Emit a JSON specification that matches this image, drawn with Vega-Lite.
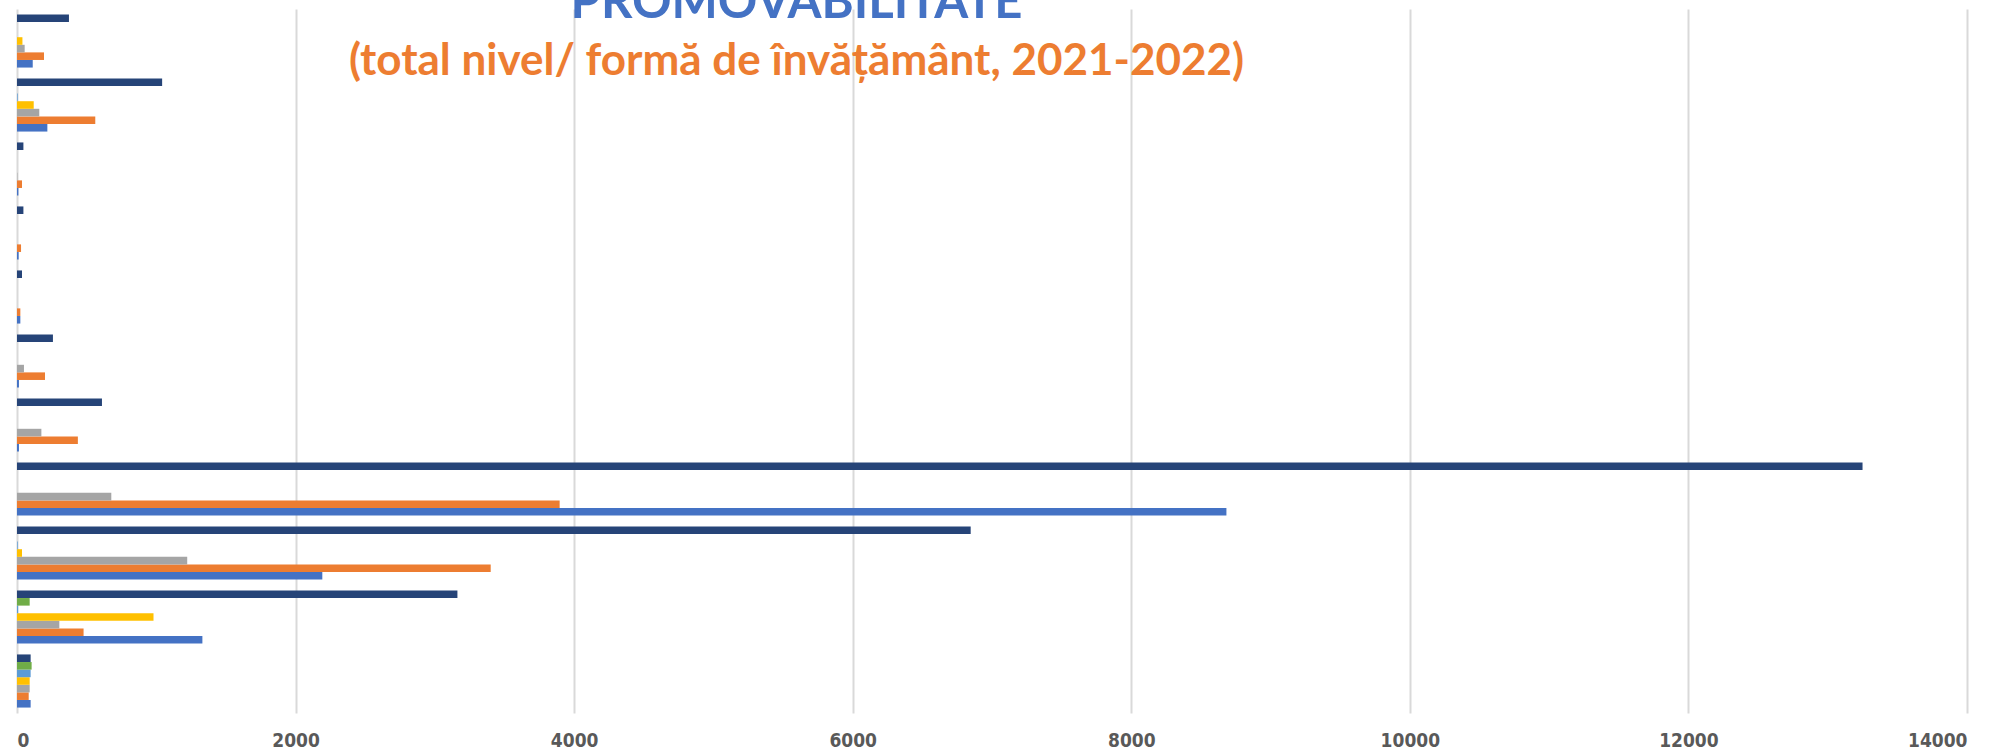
{
  "$schema": "https://vega.github.io/schema/vega-lite/v6.json",
  "autosize": {"type": "none"},
  "width": 1950,
  "height": 704,
  "padding": {"left": 17, "top": 9, "right": 41, "bottom": 39},
  "background": "white",
  "config": {"view": {"stroke": null}},
  "data": {"values": [
    {"grupa": "G01", "serie": "S1", "valoare": 113}, {"grupa": "G01", "serie": "S2", "valoare": 194}, {"grupa": "G01", "serie": "S3", "valoare": 55}, {"grupa": "G01", "serie": "S4", "valoare": 39}, {"grupa": "G01", "serie": "S5", "valoare": 0}, {"grupa": "G01", "serie": "S6", "valoare": 0}, {"grupa": "G01", "serie": "S7", "valoare": 373},
    {"grupa": "G02", "serie": "S1", "valoare": 218}, {"grupa": "G02", "serie": "S2", "valoare": 562}, {"grupa": "G02", "serie": "S3", "valoare": 160}, {"grupa": "G02", "serie": "S4", "valoare": 120}, {"grupa": "G02", "serie": "S5", "valoare": 5}, {"grupa": "G02", "serie": "S6", "valoare": 0}, {"grupa": "G02", "serie": "S7", "valoare": 1042},
    {"grupa": "G03", "serie": "S1", "valoare": 10}, {"grupa": "G03", "serie": "S2", "valoare": 36}, {"grupa": "G03", "serie": "S3", "valoare": 3}, {"grupa": "G03", "serie": "S4", "valoare": 0}, {"grupa": "G03", "serie": "S5", "valoare": 0}, {"grupa": "G03", "serie": "S6", "valoare": 0}, {"grupa": "G03", "serie": "S7", "valoare": 46},
    {"grupa": "G04", "serie": "S1", "valoare": 12}, {"grupa": "G04", "serie": "S2", "valoare": 29}, {"grupa": "G04", "serie": "S3", "valoare": 0}, {"grupa": "G04", "serie": "S4", "valoare": 0}, {"grupa": "G04", "serie": "S5", "valoare": 0}, {"grupa": "G04", "serie": "S6", "valoare": 0}, {"grupa": "G04", "serie": "S7", "valoare": 46},
    {"grupa": "G05", "serie": "S1", "valoare": 24}, {"grupa": "G05", "serie": "S2", "valoare": 24}, {"grupa": "G05", "serie": "S3", "valoare": 0}, {"grupa": "G05", "serie": "S4", "valoare": 0}, {"grupa": "G05", "serie": "S5", "valoare": 0}, {"grupa": "G05", "serie": "S6", "valoare": 0}, {"grupa": "G05", "serie": "S7", "valoare": 36},
    {"grupa": "G06", "serie": "S1", "valoare": 14}, {"grupa": "G06", "serie": "S2", "valoare": 201}, {"grupa": "G06", "serie": "S3", "valoare": 50}, {"grupa": "G06", "serie": "S4", "valoare": 0}, {"grupa": "G06", "serie": "S5", "valoare": 0}, {"grupa": "G06", "serie": "S6", "valoare": 0}, {"grupa": "G06", "serie": "S7", "valoare": 258},
    {"grupa": "G07", "serie": "S1", "valoare": 14}, {"grupa": "G07", "serie": "S2", "valoare": 437}, {"grupa": "G07", "serie": "S3", "valoare": 175}, {"grupa": "G07", "serie": "S4", "valoare": 0}, {"grupa": "G07", "serie": "S5", "valoare": 0}, {"grupa": "G07", "serie": "S6", "valoare": 0}, {"grupa": "G07", "serie": "S7", "valoare": 610},
    {"grupa": "G08", "serie": "S1", "valoare": 8683}, {"grupa": "G08", "serie": "S2", "valoare": 3896}, {"grupa": "G08", "serie": "S3", "valoare": 677}, {"grupa": "G08", "serie": "S4", "valoare": 0}, {"grupa": "G08", "serie": "S5", "valoare": 0}, {"grupa": "G08", "serie": "S6", "valoare": 0}, {"grupa": "G08", "serie": "S7", "valoare": 13250},
    {"grupa": "G09", "serie": "S1", "valoare": 2192}, {"grupa": "G09", "serie": "S2", "valoare": 3401}, {"grupa": "G09", "serie": "S3", "valoare": 1222}, {"grupa": "G09", "serie": "S4", "valoare": 36}, {"grupa": "G09", "serie": "S5", "valoare": 5}, {"grupa": "G09", "serie": "S6", "valoare": 0}, {"grupa": "G09", "serie": "S7", "valoare": 6847},
    {"grupa": "G10", "serie": "S1", "valoare": 1331}, {"grupa": "G10", "serie": "S2", "valoare": 478}, {"grupa": "G10", "serie": "S3", "valoare": 304}, {"grupa": "G10", "serie": "S4", "valoare": 980}, {"grupa": "G10", "serie": "S5", "valoare": 8}, {"grupa": "G10", "serie": "S6", "valoare": 91}, {"grupa": "G10", "serie": "S7", "valoare": 3162},
    {"grupa": "G11", "serie": "S1", "valoare": 98}, {"grupa": "G11", "serie": "S2", "valoare": 84}, {"grupa": "G11", "serie": "S3", "valoare": 91}, {"grupa": "G11", "serie": "S4", "valoare": 91}, {"grupa": "G11", "serie": "S5", "valoare": 98}, {"grupa": "G11", "serie": "S6", "valoare": 105}, {"grupa": "G11", "serie": "S7", "valoare": 98}
  ]},
  "mark": {"type": "bar"},
  "encoding": {
    "y": {
      "field": "grupa", "type": "nominal",
      "sort": ["G01","G02","G03","G04","G05","G06","G07","G08","G09","G10","G11"],
      "scale": {"paddingInner": 0.17, "paddingOuter": 0.085},
      "axis": {
        "labels": false, "ticks": false, "domain": false, "grid": false,
        "title": "(total nivel/ formă de învățământ, 2021-2022)",
        "titleAngle": 0, "titleX": 779, "titleY": 65,
        "titleAlign": "center", "titleBaseline": "alphabetic",
        "titleFont": "Lato", "titleFontWeight": "bold", "titleFontSize": 44,
        "titleColor": "#ED7D31"
      }
    },
    "yOffset": {
      "field": "serie", "type": "nominal",
      "sort": ["S7","S6","S5","S4","S3","S2","S1"],
      "scale": {"paddingInner": 0, "paddingOuter": 0}
    },
    "x": {
      "field": "valoare", "type": "quantitative",
      "scale": {"domain": [0, 14000], "nice": false},
      "axis": {
        "values": [0,2000,4000,6000,8000,10000,12000,14000],
        "format": "d",
        "grid": true, "gridColor": "#D9D9D9", "gridWidth": 2,
        "domain": false, "ticks": false,
        "labelFont": "DejaVu Sans Condensed, DejaVu Sans", "labelFontSize": 19, "labelFontWeight": "bold",
        "labelColor": "#595959", "labelPadding": 18, "labelBaseline": "top",
        "title": "PROMOVABILITATE",
        "titleX": 779, "titleY": -696,
        "titleAlign": "center", "titleBaseline": "alphabetic",
        "titleFont": "Lato", "titleFontWeight": "bold", "titleFontSize": 49,
        "titleColor": "#4472C4"
      }
    },
    "color": {
      "field": "serie", "type": "nominal",
      "scale": {
        "domain": ["S1","S2","S3","S4","S5","S6","S7"],
        "range": ["#4472C4","#ED7D31","#A5A5A5","#FFC000","#5B9BD5","#70AD47","#264478"]
      },
      "legend": null
    }
  }
}
